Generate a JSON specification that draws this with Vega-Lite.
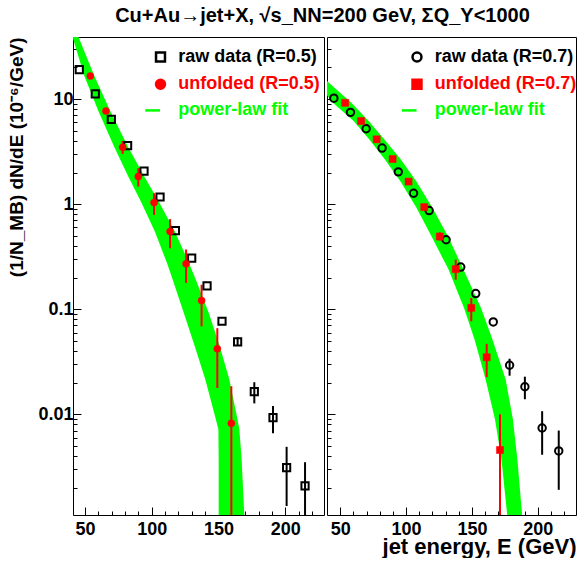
{
  "$schema": "https://vega.github.io/schema/vega-lite/v6.json",
  "padding": {"left": 7, "top": 5, "right": 0, "bottom": 0},
  "title": {"text": "Cu+Au→jet+X, √s_NN=200 GeV, ΣQ_Y<1000", "fontSize": 20, "font": "Liberation Sans", "fontWeight": "bold", "anchor": "middle", "offset": 11, "dx": 30, "color": "black"},
  "config": {
    "font": "Liberation Sans",
    "view": {"stroke": "black", "strokeWidth": 1},
    "axis": {"domain": false, "grid": false, "labelFont": "Liberation Sans", "labelFontSize": 18, "labelFontWeight": "bold", "labelColor": "black", "tickColor": "black", "tickWidth": 1, "titleFont": "Liberation Sans", "titleFontWeight": "bold", "titleColor": "black", "titleFontSize": 19, "labelOverlap": false, "labelBound": false},
    "legend": {"labelFont": "Liberation Sans", "labelFontSize": 18, "labelFontWeight": "bold", "symbolStrokeWidth": 2.5, "symbolSize": 80, "orient": "none", "legendY": 11, "padding": 0, "rowPadding": 7.2, "labelOffset": 8.8, "title": null}
  },
  "datasets": {
    "band05": [
      {"v": 50.1, "elo": 37.0, "ehi": 41.0, "series": "power-law fit"},
      {"v": 38.8, "elo": 40.7, "ehi": 45.2, "series": "power-law fit"},
      {"v": 16.6, "elo": 49.5, "ehi": 57.0, "series": "power-law fit"},
      {"v": 7.7, "elo": 60.0, "ehi": 68.9, "series": "power-law fit"},
      {"v": 3.48, "elo": 72.0, "ehi": 82.4, "series": "power-law fit"},
      {"v": 1.83, "elo": 82.4, "ehi": 94.4, "series": "power-law fit"},
      {"v": 1.035, "elo": 92.2, "ehi": 105.6, "series": "power-law fit"},
      {"v": 0.55, "elo": 102.3, "ehi": 117.3, "series": "power-law fit"},
      {"v": 0.271, "elo": 111.6, "ehi": 128.1, "series": "power-law fit"},
      {"v": 0.191, "elo": 115.7, "ehi": 133.0, "series": "power-law fit"},
      {"v": 0.0922, "elo": 124.0, "ehi": 142.7, "series": "power-law fit"},
      {"v": 0.0444, "elo": 132.2, "ehi": 150.9, "series": "power-law fit"},
      {"v": 0.0214, "elo": 140.1, "ehi": 158.1, "series": "power-law fit"},
      {"v": 0.01035, "elo": 146.7, "ehi": 163.2, "series": "power-law fit"},
      {"v": 0.0072, "elo": 149.9, "ehi": 165.6, "series": "power-law fit"},
      {"v": 0.00373, "elo": 150.1, "ehi": 167.3, "series": "power-law fit"},
      {"v": 0.0011, "elo": 150.1, "ehi": 169.3, "series": "power-law fit"},
      {"v": 0.00042, "elo": 150.1, "ehi": 170.8, "series": "power-law fit"}
    ],
    "raw05": [
      {"e": 45.7, "v": 19.1, "series": "raw data (R=0.5)"},
      {"e": 57.7, "v": 11.2, "series": "raw data (R=0.5)"},
      {"e": 69.7, "v": 6.4, "series": "raw data (R=0.5)"},
      {"e": 81.9, "v": 3.6, "series": "raw data (R=0.5)"},
      {"e": 94.2, "v": 2.06, "series": "raw data (R=0.5)"},
      {"e": 106.2, "v": 1.17, "series": "raw data (R=0.5)"},
      {"e": 117.7, "v": 0.56, "series": "raw data (R=0.5)"},
      {"e": 129.9, "v": 0.307, "series": "raw data (R=0.5)"},
      {"e": 141.4, "v": 0.167, "series": "raw data (R=0.5)"},
      {"e": 152.6, "v": 0.0768, "series": "raw data (R=0.5)"},
      {"e": 164.3, "v": 0.049, "lo": 0.045, "hi": 0.054, "series": "raw data (R=0.5)"},
      {"e": 176.8, "v": 0.0164, "lo": 0.0127, "hi": 0.0202, "series": "raw data (R=0.5)"},
      {"e": 190.8, "v": 0.0093, "lo": 0.0066, "hi": 0.012, "series": "raw data (R=0.5)"},
      {"e": 201.0, "v": 0.00311, "lo": 0.00134, "hi": 0.0049, "series": "raw data (R=0.5)"},
      {"e": 214.8, "v": 0.00208, "lo": 0.0005, "hi": 0.0035, "series": "raw data (R=0.5)"}
    ],
    "unf05": [
      {"e": 54.0, "v": 16.6, "series": "unfolded (R=0.5)"},
      {"e": 65.7, "v": 7.7, "series": "unfolded (R=0.5)"},
      {"e": 78.2, "v": 3.48, "lo": 3.0, "hi": 4.0, "series": "unfolded (R=0.5)"},
      {"e": 89.9, "v": 1.83, "lo": 1.47, "hi": 2.2, "series": "unfolded (R=0.5)"},
      {"e": 101.7, "v": 1.035, "lo": 0.79, "hi": 1.27, "series": "unfolded (R=0.5)"},
      {"e": 113.7, "v": 0.55, "lo": 0.38, "hi": 0.72, "series": "unfolded (R=0.5)"},
      {"e": 125.7, "v": 0.271, "lo": 0.178, "hi": 0.37, "series": "unfolded (R=0.5)"},
      {"e": 137.3, "v": 0.121, "lo": 0.0688, "hi": 0.171, "series": "unfolded (R=0.5)"},
      {"e": 149.1, "v": 0.042, "lo": 0.0178, "hi": 0.066, "series": "unfolded (R=0.5)"},
      {"e": 159.6, "v": 0.0082, "lo": 0.0001, "hi": 0.0185, "series": "unfolded (R=0.5)"}
    ],
    "band07": [
      {"v": 29.2, "elo": 5.0, "ehi": 18.0, "series": "power-law fit"},
      {"v": 14.5, "elo": 32.0, "ehi": 41.0, "series": "power-law fit"},
      {"v": 9.22, "elo": 44.5, "ehi": 58.5, "series": "power-law fit"},
      {"v": 6.18, "elo": 60.2, "ehi": 71.6, "series": "power-law fit"},
      {"v": 4.14, "elo": 72.0, "ehi": 83.4, "series": "power-law fit"},
      {"v": 2.69, "elo": 83.7, "ehi": 95.8, "series": "power-law fit"},
      {"v": 1.64, "elo": 95.8, "ehi": 107.9, "series": "power-law fit"},
      {"v": 0.937, "elo": 107.7, "ehi": 119.8, "series": "power-law fit"},
      {"v": 0.492, "elo": 119.4, "ehi": 131.9, "series": "power-law fit"},
      {"v": 0.241, "elo": 132.1, "ehi": 143.4, "series": "power-law fit"},
      {"v": 0.103, "elo": 144.0, "ehi": 156.9, "series": "power-law fit"},
      {"v": 0.0514, "elo": 152.0, "ehi": 165.6, "series": "power-law fit"},
      {"v": 0.0214, "elo": 160.4, "ehi": 175.6, "series": "power-law fit"},
      {"v": 0.00895, "elo": 167.5, "ehi": 181.1, "series": "power-law fit"},
      {"v": 0.00373, "elo": 172.4, "ehi": 184.5, "series": "power-law fit"},
      {"v": 0.0011, "elo": 176.8, "ehi": 188.1, "series": "power-law fit"},
      {"v": 0.000419, "elo": 179.2, "ehi": 190.5, "series": "power-law fit"}
    ],
    "raw07": [
      {"e": 45.2, "v": 10.2, "series": "raw data (R=0.7)"},
      {"e": 57.8, "v": 7.48, "series": "raw data (R=0.7)"},
      {"e": 69.7, "v": 5.22, "series": "raw data (R=0.7)"},
      {"e": 81.8, "v": 3.42, "series": "raw data (R=0.7)"},
      {"e": 94.1, "v": 2.03, "series": "raw data (R=0.7)"},
      {"e": 105.7, "v": 1.27, "series": "raw data (R=0.7)"},
      {"e": 117.5, "v": 0.869, "series": "raw data (R=0.7)"},
      {"e": 130.4, "v": 0.458, "series": "raw data (R=0.7)"},
      {"e": 141.5, "v": 0.252, "series": "raw data (R=0.7)"},
      {"e": 152.9, "v": 0.141, "series": "raw data (R=0.7)"},
      {"e": 166.2, "v": 0.0757, "series": "raw data (R=0.7)"},
      {"e": 178.6, "v": 0.0293, "lo": 0.0233, "hi": 0.0338, "series": "raw data (R=0.7)"},
      {"e": 190.2, "v": 0.0183, "lo": 0.0139, "hi": 0.0228, "series": "raw data (R=0.7)"},
      {"e": 203.3, "v": 0.0074, "lo": 0.00412, "hi": 0.0107, "series": "raw data (R=0.7)"},
      {"e": 215.9, "v": 0.00448, "lo": 0.00191, "hi": 0.007, "series": "raw data (R=0.7)"}
    ],
    "unf07": [
      {"e": 53.8, "v": 9.22, "series": "unfolded (R=0.7)"},
      {"e": 65.9, "v": 6.18, "series": "unfolded (R=0.7)"},
      {"e": 77.7, "v": 4.14, "series": "unfolded (R=0.7)"},
      {"e": 89.8, "v": 2.69, "series": "unfolded (R=0.7)"},
      {"e": 101.9, "v": 1.64, "series": "unfolded (R=0.7)"},
      {"e": 113.8, "v": 0.937, "series": "unfolded (R=0.7)"},
      {"e": 125.6, "v": 0.492, "lo": 0.45, "hi": 0.54, "series": "unfolded (R=0.7)"},
      {"e": 137.7, "v": 0.241, "lo": 0.191, "hi": 0.296, "series": "unfolded (R=0.7)"},
      {"e": 149.5, "v": 0.103, "lo": 0.0767, "hi": 0.128, "series": "unfolded (R=0.7)"},
      {"e": 161.2, "v": 0.0349, "lo": 0.0226, "hi": 0.0468, "series": "unfolded (R=0.7)"},
      {"e": 171.3, "v": 0.00457, "lo": 0.0001, "hi": 0.01, "series": "unfolded (R=0.7)"}
    ]
  },
  "spacing": 0,
  "resolve": {
    "scale": {"x": "independent", "y": "independent", "fill": "independent", "stroke": "independent", "shape": "independent"},
    "legend": {"fill": "independent", "stroke": "independent", "shape": "independent"}
  },
  "hconcat": [
    {
      "width": 251,
      "height": 478,
      "resolve": {"axis": {"x": "independent", "y": "independent"}},
      "layer": [
        {
          "data": {"name": "band05"},
          "mark": {"type": "area", "orient": "horizontal", "clip": true},
          "encoding": {
            "y": {"field": "v", "type": "quantitative",
              "scale": {"type": "log", "domain": [0.0011, 39], "nice": false},
              "axis": {"orient": "left", "values": [0.01, 0.1, 1, 10], "format": "~g", "tickSize": 8, "offset": -8, "labelPadding": 0,
                "title": "(1/N_MB) dN/dE (10⁻⁶/GeV)", "titleAnchor": "end", "titlePadding": 11, "labelOverlap": false}},
            "x": {"field": "elo", "type": "quantitative", "stack": null,
              "scale": {"domain": [41, 229], "nice": false, "zero": false},
              "axis": {"orient": "bottom", "values": [50, 100, 150, 200], "tickSize": 8, "offset": -8, "labelPadding": 5, "title": null, "labelOverlap": false}},
            "x2": {"field": "ehi"},
            "fill": {"field": "series", "type": "nominal",
              "scale": {"domain": ["raw data (R=0.5)", "unfolded (R=0.5)", "power-law fit"], "range": ["transparent", "#ff0000", "#00ff00"]},
              "legend": {"legendX": 78.5, "labelColor": {"expr": "datum.value == 'raw data (R=0.5)' ? 'black' : datum.value == 'unfolded (R=0.5)' ? '#ff0000' : '#00ff00'"}}}
          }
        },
        {
          "data": {"name": "raw05"},
          "transform": [{"filter": "isValid(datum.lo)"}],
          "mark": {"type": "rule", "strokeWidth": 2, "color": "black", "clip": true},
          "encoding": {
            "x": {"field": "e", "type": "quantitative",
              "axis": {"orient": "bottom", "values": [60,70,80,90,110,120,130,140,160,170,180,190,210,220], "tickSize": 4, "offset": -4, "labels": false, "title": null}},
            "y": {"field": "lo", "type": "quantitative",
              "axis": {"orient": "left", "values": [0.002,0.003,0.004,0.005,0.006,0.007,0.008,0.009,0.02,0.03,0.04,0.05,0.06,0.07,0.08,0.09,0.2,0.3,0.4,0.5,0.6,0.7,0.8,0.9,2,3,4,5,6,7,8,9,20,30], "tickSize": 4, "offset": -4, "labels": false, "title": null}},
            "y2": {"field": "hi"}
          }
        },
        {
          "data": {"name": "unf05"},
          "transform": [{"filter": "isValid(datum.lo)"}],
          "mark": {"type": "rule", "strokeWidth": 2, "color": "#ff0000", "clip": true},
          "encoding": {
            "x": {"field": "e", "type": "quantitative", "axis": null},
            "y": {"field": "lo", "type": "quantitative", "axis": null},
            "y2": {"field": "hi"}
          }
        },
        {
          "data": {"name": "raw05"},
          "mark": {"type": "point", "filled": true, "size": 52, "strokeWidth": 2, "opacity": 1},
          "encoding": {
            "x": {"field": "e", "type": "quantitative", "axis": null},
            "y": {"field": "v", "type": "quantitative", "axis": null},
            "fill": {"field": "series", "type": "nominal"},
            "stroke": {"field": "series", "type": "nominal",
              "scale": {"domain": ["raw data (R=0.5)", "unfolded (R=0.5)", "power-law fit"], "range": ["black", "#ff0000", "#00ff00"]}},
            "shape": {"field": "series", "type": "nominal",
              "scale": {"domain": ["raw data (R=0.5)", "unfolded (R=0.5)", "power-law fit"], "range": ["square", "circle", "M-3.4,0L-0.1,0"]}}
          }
        },
        {
          "data": {"name": "unf05"},
          "mark": {"type": "point", "filled": true, "size": 50, "strokeWidth": 0.5, "opacity": 1},
          "encoding": {
            "x": {"field": "e", "type": "quantitative", "axis": null},
            "y": {"field": "v", "type": "quantitative", "axis": null},
            "fill": {"field": "series", "type": "nominal"},
            "stroke": {"field": "series", "type": "nominal"},
            "shape": {"field": "series", "type": "nominal"}
          }
        }
      ]
    },
    {
      "width": 249,
      "height": 478,
      "resolve": {"axis": {"x": "independent", "y": "independent"}},
      "layer": [
        {
          "data": {"name": "band07"},
          "mark": {"type": "area", "orient": "horizontal", "clip": true},
          "encoding": {
            "y": {"field": "v", "type": "quantitative",
              "scale": {"type": "log", "domain": [0.0011, 39], "nice": false},
              "axis": {"orient": "left", "values": [0.01, 0.1, 1, 10], "tickSize": 8, "offset": -8, "labels": false, "title": null}},
            "x": {"field": "elo", "type": "quantitative", "stack": null,
              "scale": {"domain": [40, 229], "nice": false, "zero": false},
              "axis": {"orient": "bottom", "values": [50, 100, 150, 200], "tickSize": 8, "offset": -8, "labelPadding": 5, "labelOverlap": false,
                "title": "jet energy, E (GeV)", "titleFontSize": 22, "titleAnchor": "end", "titlePadding": -1.5}},
            "x2": {"field": "ehi"},
            "fill": {"field": "series", "type": "nominal",
              "scale": {"domain": ["raw data (R=0.7)", "unfolded (R=0.7)", "power-law fit"], "range": ["transparent", "#ff0000", "#00ff00"]},
              "legend": {"legendX": 81, "labelColor": {"expr": "datum.value == 'raw data (R=0.7)' ? 'black' : datum.value == 'unfolded (R=0.7)' ? '#ff0000' : '#00ff00'"}}}
          }
        },
        {
          "data": {"name": "raw07"},
          "transform": [{"filter": "isValid(datum.lo)"}],
          "mark": {"type": "rule", "strokeWidth": 2, "color": "black", "clip": true},
          "encoding": {
            "x": {"field": "e", "type": "quantitative",
              "axis": {"orient": "bottom", "values": [60,70,80,90,110,120,130,140,160,170,180,190,210,220], "tickSize": 4, "offset": -4, "labels": false, "title": null}},
            "y": {"field": "lo", "type": "quantitative",
              "axis": {"orient": "left", "values": [0.002,0.003,0.004,0.005,0.006,0.007,0.008,0.009,0.02,0.03,0.04,0.05,0.06,0.07,0.08,0.09,0.2,0.3,0.4,0.5,0.6,0.7,0.8,0.9,2,3,4,5,6,7,8,9,20,30], "tickSize": 4, "offset": -4, "labels": false, "title": null}},
            "y2": {"field": "hi"}
          }
        },
        {
          "data": {"name": "unf07"},
          "transform": [{"filter": "isValid(datum.lo)"}],
          "mark": {"type": "rule", "strokeWidth": 2, "color": "#ff0000", "clip": true},
          "encoding": {
            "x": {"field": "e", "type": "quantitative", "axis": null},
            "y": {"field": "lo", "type": "quantitative", "axis": null},
            "y2": {"field": "hi"}
          }
        },
        {
          "data": {"name": "raw07"},
          "mark": {"type": "point", "filled": true, "size": 55, "strokeWidth": 2, "opacity": 1},
          "encoding": {
            "x": {"field": "e", "type": "quantitative", "axis": null},
            "y": {"field": "v", "type": "quantitative", "axis": null},
            "fill": {"field": "series", "type": "nominal"},
            "stroke": {"field": "series", "type": "nominal",
              "scale": {"domain": ["raw data (R=0.7)", "unfolded (R=0.7)", "power-law fit"], "range": ["black", "#ff0000", "#00ff00"]}},
            "shape": {"field": "series", "type": "nominal",
              "scale": {"domain": ["raw data (R=0.7)", "unfolded (R=0.7)", "power-law fit"], "range": ["circle", "square", "M-3.4,0L-0.1,0"]}}
          }
        },
        {
          "data": {"name": "unf07"},
          "mark": {"type": "point", "filled": true, "size": 50, "strokeWidth": 0.5, "opacity": 1},
          "encoding": {
            "x": {"field": "e", "type": "quantitative", "axis": null},
            "y": {"field": "v", "type": "quantitative", "axis": null},
            "fill": {"field": "series", "type": "nominal"},
            "stroke": {"field": "series", "type": "nominal"},
            "shape": {"field": "series", "type": "nominal"}
          }
        }
      ]
    }
  ]
}
